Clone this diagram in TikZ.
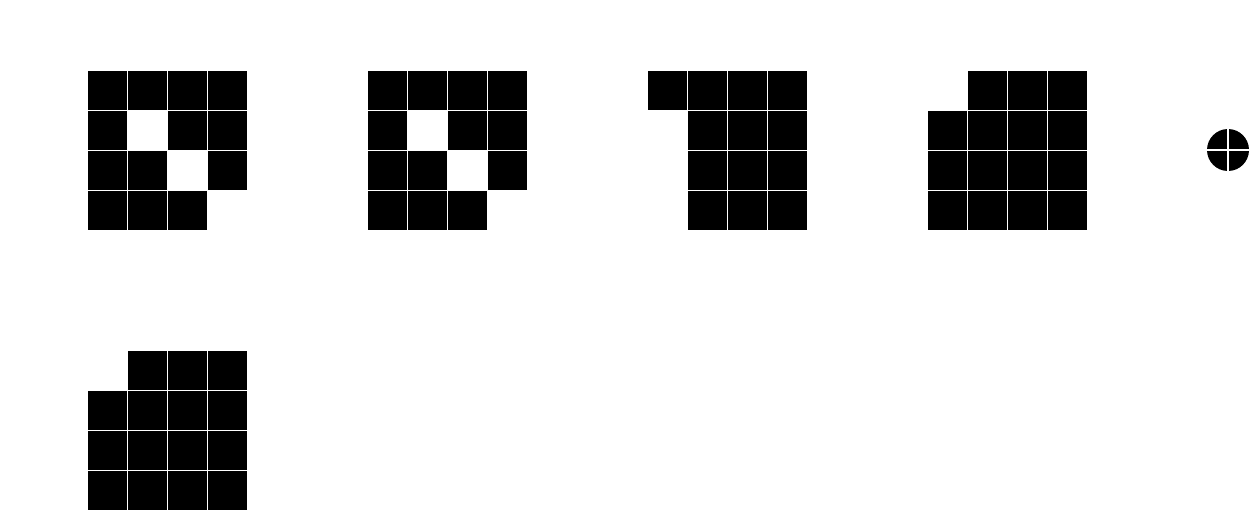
\documentclass[tikz,border=0pt]{standalone}
\begin{document}
\begin{tikzpicture}[x=1pt,y=-1pt,
  cellbox/.style={fill=black,draw=none},
  crossline/.style={draw=white,line width=1.2pt}]
\useasboundingbox[fill=white] (0,0) rectangle (1259,511);
% grids: origin x, origin y, list of missing cells (col/row)
\foreach \ox/\oy/\miss in {88/71/{1-1,2-2,3-3},368/71/{1-1,2-2,3-3},648/71/{0-1,0-2,0-3},928/71/{0-0},88/351/{0-0}}{
  \foreach \c in {0,1,2,3}{
    \foreach \r in {0,1,2,3}{
      \def\skip{0}
      \foreach \m in \miss{
        \edef\tmp{\c-\r}
        \ifx\tmp\m\global\def\skipit{1}\fi
      }
      \ifdefined\skipit
        \global\let\skipit\undefined
      \else
        \fill[cellbox] (\ox+40*\c,\oy+40*\r) rectangle (\ox+40*\c+39,\oy+40*\r+39);
      \fi
    }
  }
}
\node[circle,fill=black,minimum size=42pt,inner sep=0pt] (dot) at (1228,150) {};
\draw[crossline] (dot.north) -- (dot.south);
\draw[crossline] (dot.west) -- (dot.east);
\end{tikzpicture}
\end{document}
